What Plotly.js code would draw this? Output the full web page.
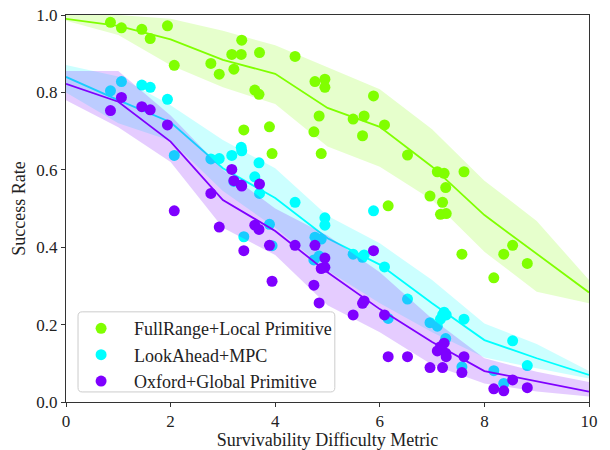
<!DOCTYPE html>
<html>
<head>
<meta charset="utf-8">
<script src="https://cdn.plot.ly/plotly-3.0.1.min.js"></script>
<style>html,body{margin:0;padding:0;background:#fff;}#chart{width:610px;height:450px;}</style>
</head>
<body>
<div id="chart"></div>
<script>
// Shared difficulty values of the scattered runs
const xs = [0.85,1.06,1.45,1.61,1.94,2.07,2.77,2.93,3.17,3.21,3.35,3.36,3.40,3.61,3.69,3.70,3.89,3.94,4.38,4.74,4.76,4.84,4.88,4.95,4.95,5.49,5.67,5.70,5.88,6.09,6.16,6.53,6.96,7.10,7.16,7.20,7.23,7.26,7.27,7.57,7.61,8.18,8.37,8.54,8.82];
const greenPts = [0.981,0.967,0.963,0.939,0.972,0.870,0.875,0.847,0.898,0.860,0.898,0.935,0.703,0.806,0.795,0.903,0.711,0.642,0.893,0.698,0.828,0.739,0.642,0.834,0.813,0.731,0.688,0.739,0.791,0.716,0.507,0.638,0.532,0.595,0.485,0.516,0.591,0.554,0.487,0.382,0.595,0.321,0.382,0.405,0.358];
const cyanPts = [0.804,0.828,0.819,0.813,0.782,0.637,0.628,0.629,0.637,0.570,0.658,0.649,0.427,0.582,0.618,0.539,0.459,0.404,0.516,0.367,0.426,0.377,0.421,0.476,0.457,0.382,0.374,0.380,0.494,0.349,0.216,0.266,0.205,0.196,0.214,0.225,0.232,0.164,0.225,0.091,0.214,0.081,0.048,0.158,0.094];
const purplePts = [0.753,0.787,0.763,0.755,0.716,0.494,0.539,0.452,0.601,0.572,0.561,0.558,0.391,0.457,0.446,0.563,0.405,0.312,0.405,0.302,0.405,0.256,0.345,0.372,0.348,0.225,0.255,0.261,0.391,0.225,0.117,0.117,0.089,0.132,0.143,0.089,0.152,0.126,0.117,0.076,0.117,0.034,0.029,0.057,0.037];

// Fitted curves and bands, sampled at integer difficulty
const curveX = [0,1,2,3,4,5,6,7,8,9,10];
const greenLine  = [0.990,0.972,0.937,0.884,0.848,0.760,0.711,0.608,0.483,0.382,0.283];
const greenUpper = [1.000,1.000,0.990,0.959,0.922,0.866,0.808,0.705,0.572,0.468,0.315];
const greenLower = [0.985,0.948,0.870,0.813,0.770,0.660,0.608,0.522,0.388,0.285,0.255];
const cyanLine  = [0.840,0.780,0.723,0.604,0.527,0.423,0.355,0.255,0.160,0.113,0.070];
const cyanUpper = [0.871,0.841,0.767,0.677,0.604,0.481,0.410,0.315,0.203,0.150,0.080];
const cyanLower = [0.800,0.720,0.675,0.545,0.450,0.340,0.255,0.180,0.115,0.087,0.061];
const purpleLine  = [0.822,0.776,0.673,0.522,0.442,0.335,0.240,0.155,0.080,0.053,0.027];
const purpleUpper = [0.855,0.855,0.740,0.600,0.500,0.430,0.335,0.215,0.113,0.078,0.052];
const purpleLower = [0.780,0.710,0.620,0.450,0.380,0.250,0.180,0.096,0.048,0.027,0.014];

const names = ['FullRange+Local Primitive','LookAhead+MPC','Oxford+Global Primitive'];
const colors = ['#80ff00','#00ffff','#7f00ff'];
const fills = ['rgba(128,255,0,0.2)','rgba(0,255,255,0.2)','rgba(127,0,255,0.2)'];
const pts = [greenPts, cyanPts, purplePts];
const lines = [greenLine, cyanLine, purpleLine];
const uppers = [greenUpper, cyanUpper, purpleUpper];
const lowers = [greenLower, cyanLower, purpleLower];

const traces = [];
for (let i = 0; i < 3; i++) {
  traces.push({
    x: xs, y: pts[i], type: 'scatter', mode: 'markers', name: names[i],
    marker: {color: colors[i], size: 11, line: {width: 0}}, showlegend: true
  });
  traces.push({
    x: curveX.concat(curveX.slice().reverse()),
    y: uppers[i].concat(lowers[i].slice().reverse()),
    type: 'scatter', mode: 'lines', fill: 'toself', fillcolor: fills[i],
    line: {width: 0, color: 'rgba(0,0,0,0)'}, showlegend: false, hoverinfo: 'skip'
  });
  traces.push({
    x: curveX, y: lines[i], type: 'scatter', mode: 'lines',
    line: {color: colors[i], width: 1.8}, showlegend: false
  });
}

// Legend frame (rounded, semi-opaque like matplotlib's)
const bx0 = 0.023, bx1 = 0.514, by0 = 0.026, by1 = 0.233, rx = 0.008, ry = 0.011;
const framePath = `M ${bx0+rx},${by0} L ${bx1-rx},${by0} Q ${bx1},${by0} ${bx1},${by0+ry} ` +
  `L ${bx1},${by1-ry} Q ${bx1},${by1} ${bx1-rx},${by1} L ${bx0+rx},${by1} Q ${bx0},${by1} ${bx0},${by1-ry} ` +
  `L ${bx0},${by0+ry} Q ${bx0},${by0} ${bx0+rx},${by0} Z`;

const fontFam = '"Liberation Serif", "Times New Roman", serif';
const layout = {
  width: 610, height: 450,
  margin: {l: 66, r: 21, t: 15, b: 48},
  paper_bgcolor: '#fff', plot_bgcolor: '#fff',
  font: {family: fontFam, color: '#222', size: 17},
  showlegend: true,
  shapes: [{
    type: 'path', xref: 'paper', yref: 'paper', path: framePath, layer: 'above',
    fillcolor: 'rgba(255,255,255,0.8)', line: {color: '#cccccc', width: 1}
  }],
  xaxis: {
    range: [0, 10], tickvals: [0,2,4,6,8,10], ticktext: ['0','2','4','6','8','10'],
    ticks: 'outside', ticklen: 4, tickcolor: '#333', showline: true, mirror: true,
    linecolor: '#333', linewidth: 1, showgrid: false, zeroline: false,
    tickfont: {size: 17, family: fontFam},
    title: {text: 'Survivability Difficulty Metric', font: {size: 18, family: fontFam}, standoff: 4}
  },
  yaxis: {
    range: [0, 1], tickvals: [0,0.2,0.4,0.6,0.8,1.0], ticktext: ['0.0','0.2','0.4','0.6','0.8','1.0'],
    ticks: 'outside', ticklen: 4, tickcolor: '#333', showline: true, mirror: true,
    linecolor: '#333', linewidth: 1, showgrid: false, zeroline: false,
    tickfont: {size: 17, family: fontFam},
    title: {text: 'Success Rate', font: {size: 18, family: fontFam}, standoff: 6}
  },
  legend: {
    x: 0.004, y: 0.005, xanchor: 'left', yanchor: 'bottom',
    bgcolor: 'rgba(0,0,0,0)', borderwidth: 0,
    font: {size: 18, family: fontFam, color: '#222'}, itemwidth: 56, tracegroupgap: 0
  }
};

Plotly.newPlot('chart', traces, layout, {displayModeBar: false, staticPlot: true});
</script>
</body>
</html>
